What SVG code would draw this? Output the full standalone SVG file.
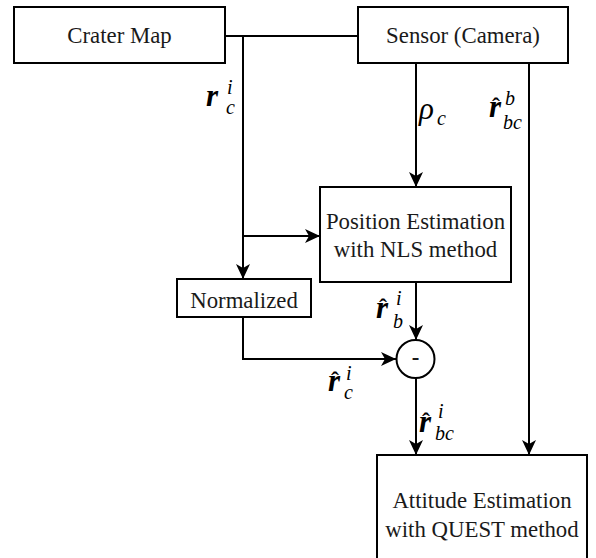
<svg xmlns="http://www.w3.org/2000/svg" width="596" height="558" viewBox="0 0 596 558" font-family="Liberation Serif, Times New Roman, DejaVu Serif, serif">
<style>
.box{fill:#fff;stroke:#000;stroke-width:2}
.ln{fill:none;stroke:#000;stroke-width:2}
.t{font-family:"Liberation Serif","Times New Roman",serif;font-size:22.8px;fill:#1a1a1a;text-anchor:middle}
.m{font-family:"Liberation Serif","Times New Roman",serif;fill:#000}
.r{font-size:31px;font-style:italic;font-weight:bold}
.s{font-size:20px;font-style:italic;font-weight:normal}
.h{font-size:24px;font-style:normal;font-weight:bold}
.g{font-size:31px;font-style:italic}
</style>
<defs>
<marker id="ar" markerUnits="userSpaceOnUse" markerWidth="16" markerHeight="14" viewBox="0 0 16 14" refX="15" refY="7" orient="auto">
<path d="M0,0 L15,7 L0,14 L4,7 z" fill="#000"/>
</marker>
</defs>
<g id="connectors">
<path class="ln" d="M225,36 H358"/>
<path class="ln" d="M243,36 V279" marker-end="url(#ar)"/>
<path class="ln" d="M243,236 H320" marker-end="url(#ar)"/>
<path class="ln" d="M416,63 V187" marker-end="url(#ar)"/>
<path class="ln" d="M529,63 V455" marker-end="url(#ar)"/>
<path class="ln" d="M416,282 V340" marker-end="url(#ar)"/>
<path class="ln" d="M243,317 V359 H396" marker-end="url(#ar)"/>
<path class="ln" d="M416,378 V455" marker-end="url(#ar)"/>
</g>
<g id="crater-map">
<rect class="box" x="14" y="7" width="211" height="56"/>
<text class="t" x="119.5" y="43">Crater Map</text>
</g>
<g id="sensor">
<rect class="box" x="358" y="7" width="210" height="56"/>
<text class="t" x="463" y="43">Sensor (Camera)</text>
</g>
<g id="position">
<rect class="box" x="320" y="187" width="191" height="95"/>
<text class="t" x="415.5" y="229">Position Estimation</text>
<text class="t" x="415.5" y="257">with NLS method</text>
</g>
<g id="normalized">
<rect class="box" x="177" y="279" width="134" height="38"/>
<text class="t" x="244" y="308">Normalized</text>
</g>
<g id="minus">
<circle cx="415.5" cy="359" r="19" fill="#fff" stroke="#000" stroke-width="2"/>
<text class="t" x="415.5" y="365" style="font-weight:bold">-</text>
</g>
<g id="attitude">
<rect class="box" x="377" y="455" width="210" height="110"/>
<text class="t" x="482" y="508">Attitude Estimation</text>
<text class="t" x="482" y="537">with QUEST method</text>
</g>
<g id="labels">
<text class="m"><tspan class="r" x="206" y="106">r</tspan><tspan class="s" x="227" y="94">i</tspan><tspan class="s" x="226" y="114">c</tspan></text>

<text class="m"><tspan class="g" x="419" y="119">ρ</tspan><tspan class="s" x="437" y="125">c</tspan></text>

<text class="m"><tspan class="r" x="489" y="117">r</tspan><tspan class="h" x="492" y="114">ˆ</tspan><tspan class="s" x="505" y="105">b</tspan><tspan class="s" x="503" y="129">bc</tspan></text>

<text class="m"><tspan class="r" x="376" y="318">r</tspan><tspan class="h" x="379" y="315">ˆ</tspan><tspan class="s" x="396" y="305">i</tspan><tspan class="s" x="393" y="328">b</tspan></text>

<text class="m"><tspan class="r" x="328" y="391">r</tspan><tspan class="h" x="331" y="388">ˆ</tspan><tspan class="s" x="346" y="380">i</tspan><tspan class="s" x="344" y="399">c</tspan></text>

<text class="m"><tspan class="r" x="419" y="432">r</tspan><tspan class="h" x="422" y="429">ˆ</tspan><tspan class="s" x="438" y="418">i</tspan><tspan class="s" x="435" y="440">bc</tspan></text>
</g>
</svg>
